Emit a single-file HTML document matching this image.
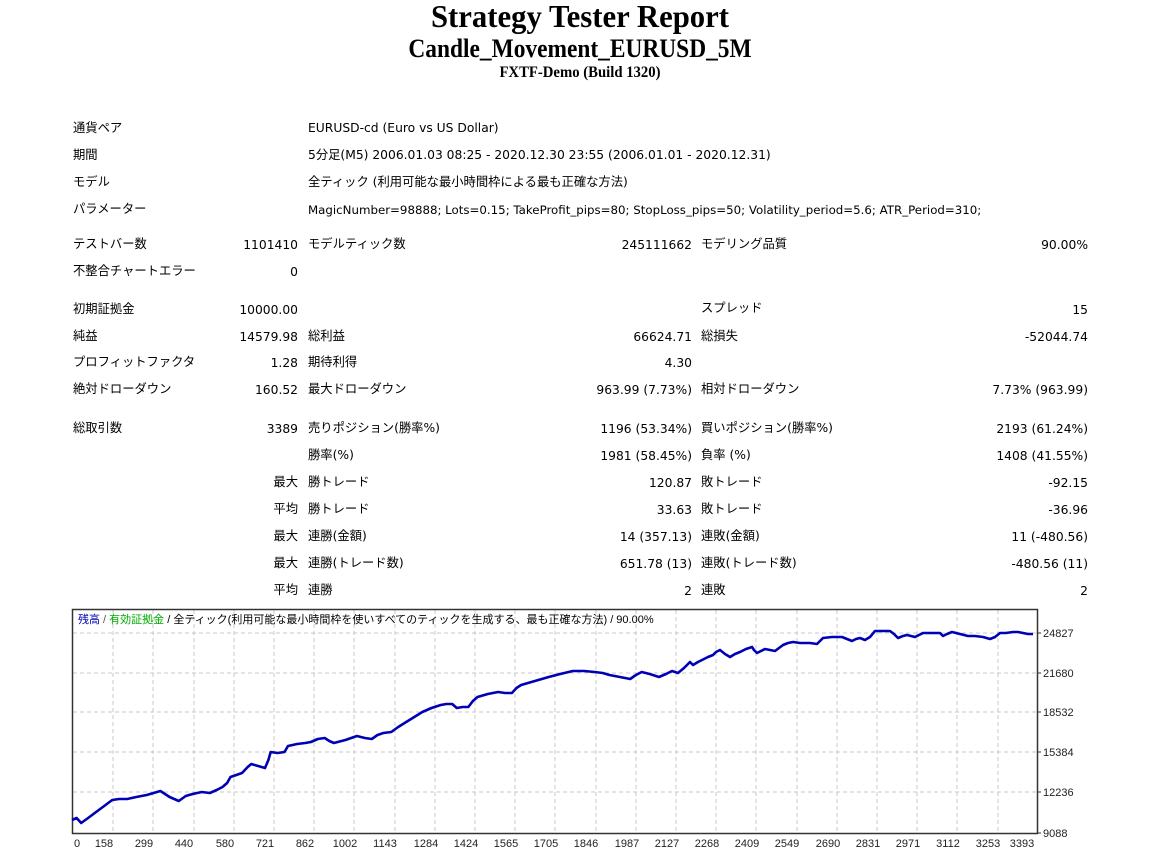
<!DOCTYPE html>
<html><head><meta charset="utf-8"><style>
body{margin:0;width:1155px;height:857px;background:#fff;position:relative;overflow:hidden;font-family:"DejaVu Sans","Liberation Sans","Noto Sans CJK JP",sans-serif;font-size:12.3px;color:#000}
.t{position:absolute;white-space:nowrap;line-height:16px}
.r{text-align:right}
h{position:absolute;left:0;width:1160px;text-align:center;font-family:"Liberation Serif",serif;font-weight:bold;display:block;white-space:nowrap}
</style></head><body>
<h style="top:-2px;font-size:32px;transform:scaleX(0.96)">Strategy Tester Report</h>
<h style="top:34px;font-size:26px;transform:scaleX(0.9)">Candle_Movement_EURUSD_5M</h>
<h style="top:64px;font-size:16px;transform:scaleX(0.92)">FXTF-Demo (Build 1320)</h>

<div class="t" style="left:73px;top:120px">通貨ペア</div>
<div class="t" style="left:308px;top:120px">EURUSD-cd (Euro vs US Dollar)</div>
<div class="t" style="left:73px;top:147px">期間</div>
<div class="t" style="left:308px;top:147px">5分足(M5) 2006.01.03 08:25 - 2020.12.30 23:55 (2006.01.01 - 2020.12.31)</div>
<div class="t" style="left:73px;top:174px">モデル</div>
<div class="t" style="left:308px;top:174px">全ティック (利用可能な最小時間枠による最も正確な方法)</div>
<div class="t" style="left:73px;top:201px">パラメーター</div>
<div class="t" style="left:308px;top:202px;font-size:11.8px">MagicNumber=98888; Lots=0.15; TakeProfit_pips=80; StopLoss_pips=50; Volatility_period=5.6; ATR_Period=310;</div>

<div class="t" style="left:73px;top:236px">テストバー数</div>
<div class="t r" style="right:857px;top:237px">1101410</div>
<div class="t" style="left:308px;top:236px">モデルティック数</div>
<div class="t r" style="right:463px;top:237px">245111662</div>
<div class="t" style="left:701px;top:236px">モデリング品質</div>
<div class="t r" style="right:67px;top:237px">90.00%</div>
<div class="t" style="left:73px;top:263px">不整合チャートエラー</div>
<div class="t r" style="right:857px;top:264px">0</div>

<div class="t" style="left:73px;top:301px">初期証拠金</div>
<div class="t r" style="right:857px;top:302px">10000.00</div>
<div class="t" style="left:701px;top:300px">スプレッド</div>
<div class="t r" style="right:67px;top:302px">15</div>
<div class="t" style="left:73px;top:328px">純益</div>
<div class="t r" style="right:857px;top:329px">14579.98</div>
<div class="t" style="left:308px;top:328px">総利益</div>
<div class="t r" style="right:463px;top:329px">66624.71</div>
<div class="t" style="left:701px;top:328px">総損失</div>
<div class="t r" style="right:67px;top:329px">-52044.74</div>
<div class="t" style="left:73px;top:354px">プロフィットファクタ</div>
<div class="t r" style="right:857px;top:355px">1.28</div>
<div class="t" style="left:308px;top:354px">期待利得</div>
<div class="t r" style="right:463px;top:355px">4.30</div>
<div class="t" style="left:73px;top:381px">絶対ドローダウン</div>
<div class="t r" style="right:857px;top:382px">160.52</div>
<div class="t" style="left:308px;top:381px">最大ドローダウン</div>
<div class="t r" style="right:463px;top:382px">963.99 (7.73%)</div>
<div class="t" style="left:701px;top:381px">相対ドローダウン</div>
<div class="t r" style="right:67px;top:382px">7.73% (963.99)</div>

<div class="t" style="left:73px;top:420px">総取引数</div>
<div class="t r" style="right:857px;top:421px">3389</div>
<div class="t" style="left:308px;top:420px">売りポジション(勝率%)</div>
<div class="t r" style="right:463px;top:421px">1196 (53.34%)</div>
<div class="t" style="left:701px;top:420px">買いポジション(勝率%)</div>
<div class="t r" style="right:67px;top:421px">2193 (61.24%)</div>
<div class="t" style="left:308px;top:447px">勝率(%)</div>
<div class="t r" style="right:463px;top:448px">1981 (58.45%)</div>
<div class="t" style="left:701px;top:447px">負率 (%)</div>
<div class="t r" style="right:67px;top:448px">1408 (41.55%)</div>
<div class="t r" style="right:857px;top:474px">最大</div>
<div class="t" style="left:308px;top:474px">勝トレード</div>
<div class="t r" style="right:463px;top:475px">120.87</div>
<div class="t" style="left:701px;top:474px">敗トレード</div>
<div class="t r" style="right:67px;top:475px">-92.15</div>
<div class="t r" style="right:857px;top:501px">平均</div>
<div class="t" style="left:308px;top:501px">勝トレード</div>
<div class="t r" style="right:463px;top:502px">33.63</div>
<div class="t" style="left:701px;top:501px">敗トレード</div>
<div class="t r" style="right:67px;top:502px">-36.96</div>
<div class="t r" style="right:857px;top:528px">最大</div>
<div class="t" style="left:308px;top:528px">連勝(金額)</div>
<div class="t r" style="right:463px;top:529px">14 (357.13)</div>
<div class="t" style="left:701px;top:528px">連敗(金額)</div>
<div class="t r" style="right:67px;top:529px">11 (-480.56)</div>
<div class="t r" style="right:857px;top:555px">最大</div>
<div class="t" style="left:308px;top:555px">連勝(トレード数)</div>
<div class="t r" style="right:463px;top:556px">651.78 (13)</div>
<div class="t" style="left:701px;top:555px">連敗(トレード数)</div>
<div class="t r" style="right:67px;top:556px">-480.56 (11)</div>
<div class="t r" style="right:857px;top:582px">平均</div>
<div class="t" style="left:308px;top:582px">連勝</div>
<div class="t r" style="right:463px;top:583px">2</div>
<div class="t" style="left:701px;top:582px">連敗</div>
<div class="t r" style="right:67px;top:583px">2</div>

<svg style="position:absolute;left:0;top:0" width="1155" height="857" font-family="Liberation Sans, DejaVu Sans, Noto Sans CJK JP, sans-serif">
<g stroke="#c8c8c8" stroke-dasharray="4,3" stroke-width="1">
<line x1="73" x2="1037" y1="633" y2="633"/><line x1="73" x2="1037" y1="673" y2="673"/><line x1="73" x2="1037" y1="712" y2="712"/><line x1="73" x2="1037" y1="752" y2="752"/><line x1="73" x2="1037" y1="792" y2="792"/>
<line y1="610" y2="833" x1="113" x2="113"/><line y1="610" y2="833" x1="153" x2="153"/><line y1="610" y2="833" x1="194" x2="194"/><line y1="610" y2="833" x1="234" x2="234"/><line y1="610" y2="833" x1="274" x2="274"/><line y1="610" y2="833" x1="314" x2="314"/><line y1="610" y2="833" x1="354" x2="354"/><line y1="610" y2="833" x1="395" x2="395"/><line y1="610" y2="833" x1="435" x2="435"/><line y1="610" y2="833" x1="475" x2="475"/><line y1="610" y2="833" x1="515" x2="515"/><line y1="610" y2="833" x1="555" x2="555"/><line y1="610" y2="833" x1="596" x2="596"/><line y1="610" y2="833" x1="636" x2="636"/><line y1="610" y2="833" x1="676" x2="676"/><line y1="610" y2="833" x1="716" x2="716"/><line y1="610" y2="833" x1="756" x2="756"/><line y1="610" y2="833" x1="797" x2="797"/><line y1="610" y2="833" x1="837" x2="837"/><line y1="610" y2="833" x1="877" x2="877"/><line y1="610" y2="833" x1="917" x2="917"/><line y1="610" y2="833" x1="957" x2="957"/><line y1="610" y2="833" x1="998" x2="998"/>
</g>
<rect x="72.5" y="609.5" width="965" height="224" fill="none" stroke="#333" stroke-width="1.5"/>
<g stroke="#333"><line x1="1037" x2="1041" y1="633" y2="633"/><line x1="1037" x2="1041" y1="673" y2="673"/><line x1="1037" x2="1041" y1="712" y2="712"/><line x1="1037" x2="1041" y1="752" y2="752"/><line x1="1037" x2="1041" y1="792" y2="792"/><line x1="1037" x2="1041" y1="833" y2="833"/></g>
<polyline fill="none" stroke="#0000b4" stroke-width="2.6" stroke-linejoin="round" points="72,820 76.6,818 81.2,823 88.1,818 96.1,812 104.2,806 112.2,800 119.1,799 127.1,799 136.3,797 146.7,795 153.6,793 160.4,791 169.6,797 178.8,801 185.7,796 192.6,794 201.8,792 209.8,793 216.7,790 222.5,787 227.1,783 230.5,777 236.3,775 242,773 247.7,767 251.2,764 258.1,766 265,768 268.4,760 270.7,752 277.6,753 284.5,752 288,746 297.1,744 305.2,743 310.9,742 317.8,739 324.7,738 329.3,741 333.9,743 345.4,740 356.9,736 364.9,738 371.8,739 377.5,735 383.3,733 391.3,732 398.2,727 406.2,722 414.3,717 422.3,712 431.5,708 440.7,705 446.4,704 452.2,704 456.8,708 462.5,707 468.3,707 472.9,701 477.5,697 487.8,694 498.1,692 505,693 511.9,693 516.5,688 521.1,685 534.9,681 548.7,677 560.2,674 572.8,671 584.3,671 594.6,672 602.7,673 609.5,675 619.9,677 630.2,679 635.9,675 641.7,672 649.7,674 659,677 666,674 672,671 678,673 684,668 690,662 693,665 698,662 702,660 708,657 713,655 716,652 720,650 725,654 730,657 735,654 740,652 746,649 752,647 754,650 757,653 761,651 765,649 770,650 775,651 779,648 783,645 788,643 793,642 800,643 810,643 817,644 820,641 823,638 832,637 842,637 847,639 852,641 856,639 860,638 865,640 870,637 875,631 882,631 890,631 894,634 898,638 903,636 907,635 911,636 915,637 919,635 923,633 932,633 940,633 943,636 947,634 952,632 960,634 968,636 975,636 983,637 990,639 995,637 1000,633 1006,633 1013,632 1018,632 1023,633 1028,634 1033,634"/>
<text x="78" y="623" font-size="11"><tspan fill="#0000b4">残高</tspan><tspan fill="#555"> / </tspan><tspan fill="#00aa00">有効証拠金</tspan><tspan fill="#000"> / 全ティック(利用可能な最小時間枠を使いすべてのティックを生成する、最も正確な方法) / 90.00%</tspan></text>
<g font-size="11" fill="#222">
<text x="1043" y="637">24827</text><text x="1043" y="677">21680</text><text x="1043" y="716">18532</text><text x="1043" y="756">15384</text><text x="1043" y="796">12236</text><text x="1043" y="837">9088</text>
</g>
<g font-size="11" fill="#222" text-anchor="middle">
<text x="77" y="847">0</text><text x="104" y="847">158</text><text x="144" y="847">299</text><text x="184" y="847">440</text><text x="225" y="847">580</text><text x="265" y="847">721</text><text x="305" y="847">862</text><text x="345" y="847">1002</text><text x="385" y="847">1143</text><text x="426" y="847">1284</text><text x="466" y="847">1424</text><text x="506" y="847">1565</text><text x="546" y="847">1705</text><text x="586" y="847">1846</text><text x="627" y="847">1987</text><text x="667" y="847">2127</text><text x="707" y="847">2268</text><text x="747" y="847">2409</text><text x="787" y="847">2549</text><text x="828" y="847">2690</text><text x="868" y="847">2831</text><text x="908" y="847">2971</text><text x="948" y="847">3112</text><text x="988" y="847">3253</text><text x="1022" y="847">3393</text>
</g>
</svg>
</body></html>
